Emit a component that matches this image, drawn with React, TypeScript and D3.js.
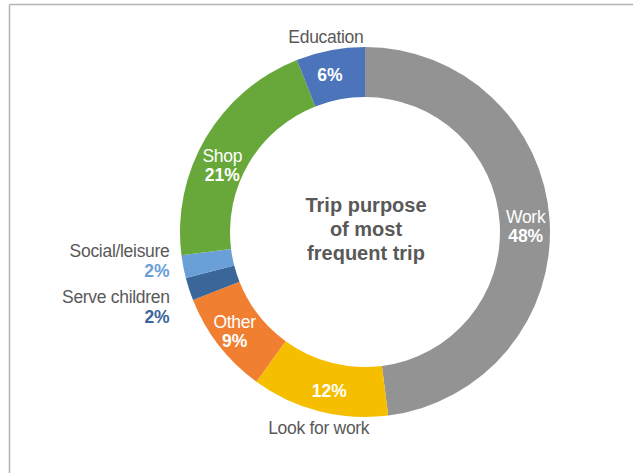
import React from "react";
import * as d3 from "d3";

const categories = ["Work", "Look for work", "Other", "Serve children", "Social/leisure", "Shop", "Education"];
const values = [48, 12, 9, 2, 2, 21, 6];
const colors = ["#939393", "#F5BF00", "#F07F32", "#3A6699", "#6A9FD8", "#68A83A", "#4C74BA"];
const centerTitle = ["Trip purpose", "of most", "frequent trip"];

const W = 633;
const H = 473;
const cx = 365;
const cy = 232;
const rOuter = 185;
const rInner = 135;
const FONT = "'Liberation Sans', Arial, Helvetica, sans-serif";
const TEXT_GRAY = "#595959";
const FS = 17.5;

type LabelMode = "inside" | "nameAbove" | "nameBelow" | "outsideLeft";

// label layout per slice: mode, offset of label block from its anchor point
const layout: { mode: LabelMode; dx: number; dy: number }[] = [
  { mode: "inside", dx: 1, dy: 1 },
  { mode: "nameBelow", dx: 4, dy: 10 },
  { mode: "inside", dx: -4, dy: -2 },
  { mode: "outsideLeft", dx: -7, dy: 10 },
  { mode: "outsideLeft", dx: -1, dy: -12 },
  { mode: "inside", dx: -5, dy: 11 },
  { mode: "nameAbove", dx: -5, dy: 6 },
];

export default function App() {
  const pie = d3.pie<number>().sort(null).value((d) => d);
  const arcs = pie(values);
  const arc = d3.arc<d3.PieArcDatum<number>>().innerRadius(rInner).outerRadius(rOuter);
  const labelArc = d3.arc<d3.PieArcDatum<number>>().innerRadius(160).outerRadius(160);
  const outerArc = d3.arc<d3.PieArcDatum<number>>().innerRadius(198).outerRadius(198);

  const labels = arcs.map((a, i) => {
    const [lx, ly] = labelArc.centroid(a);
    const [ox, oy] = outerArc.centroid(a);
    const { mode, dx, dy } = layout[i];
    const name = categories[i];
    const pct = `${values[i]}%`;
    if (mode === "inside") {
      const x = cx + lx + dx;
      const y = cy + ly + dy;
      return (
        <g key={i}>
          <text x={x} y={y} textAnchor="middle" fill="#ffffff" fontSize={FS} fontWeight={300} fontFamily={FONT} letterSpacing={-0.3}>{name}</text>
          <text x={x} y={y + 19} textAnchor="middle" fill="#ffffff" fontSize={FS} fontWeight={700} fontFamily={FONT}>{pct}</text>
        </g>
      );
    }
    if (mode === "nameAbove" || mode === "nameBelow") {
      const x = cx + lx + dx;
      const y = cy + ly + dy;
      const nx = cx + ox + (mode === "nameAbove" ? -2 : 3);
      const ny = cy + oy + (mode === "nameAbove" ? 5 : 10);
      return (
        <g key={i}>
          <text x={x} y={y} textAnchor="middle" fill="#ffffff" fontSize={FS} fontWeight={700} fontFamily={FONT}>{pct}</text>
          <text x={nx} y={ny} textAnchor="middle" fill={TEXT_GRAY} fontSize={FS} fontWeight={300} fontFamily={FONT} letterSpacing={-0.3}>{name}</text>
        </g>
      );
    }
    const ex = cx + ox + dx;
    const ey = cy + oy + dy;
    return (
      <g key={i}>
        <text x={ex} y={ey} textAnchor="end" fill={TEXT_GRAY} fontSize={FS} fontWeight={300} fontFamily={FONT} letterSpacing={-0.3}>{name}</text>
        <text x={ex} y={ey + 20} textAnchor="end" fill={colors[i]} fontSize={FS} fontWeight={700} fontFamily={FONT}>{pct}</text>
      </g>
    );
  });

  return (
    <svg width={W} height={H} style={{ position: "absolute", left: 0, top: 0, background: "#ffffff" }}>
      <line x1={9.5} y1={4.5} x2={W} y2={4.5} stroke="#b4b4b4" strokeWidth={1.5} />
      <line x1={9.5} y1={4.5} x2={9.5} y2={H} stroke="#b4b4b4" strokeWidth={1.5} />
      <g transform={`translate(${cx},${cy})`}>
        {arcs.map((a, i) => (
          <path key={i} d={arc(a) || ""} fill={colors[i]} />
        ))}
      </g>
      <g>{labels}</g>
      <g>
        {centerTitle.map((t, i) => (
          <text key={i} x={cx + 1} y={cy - 20 + i * 24} textAnchor="middle" fill={TEXT_GRAY} fontSize={20} fontWeight={700} fontFamily={FONT}>{t}</text>
        ))}
      </g>
    </svg>
  );
}
